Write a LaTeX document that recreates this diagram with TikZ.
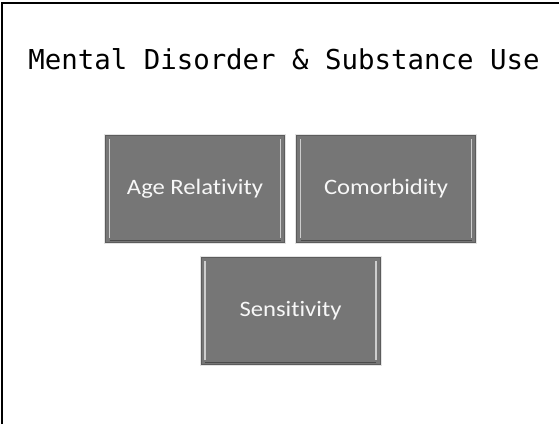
\documentclass[tikz,border=0pt]{standalone}
\usepackage{fontspec}
\newfontfamily\titlefont{DejaVu Sans Mono}
\newfontfamily\boxfont[FakeStretch=1.12, Ligatures=NoCommon]{Carlito}
\usetikzlibrary{positioning, calc}

\definecolor{boxgray}{RGB}{118,118,118}
\definecolor{boxedge}{RGB}{92,92,92}
\definecolor{bevel}{RGB}{205,205,205}

\begin{document}
\begin{tikzpicture}[x=1pt, y=-1pt,
    topic/.style={rectangle, fill=boxgray, draw=boxedge, line width=0.8pt,
      minimum width=179pt, minimum height=107pt, inner sep=0pt, outer sep=0pt,
      text=white!94!gray, font=\boxfont\fontsize{22}{26}\selectfont,
      preaction={draw=gray!22, line width=3pt},
      path picture={
        \draw[bevel, line width=1.8pt]
          ([xshift=4pt, yshift=-4pt]path picture bounding box.north west)
          -- ([xshift=4pt, yshift=4pt]path picture bounding box.south west);
        \draw[bevel, line width=1.8pt]
          ([xshift=-4pt, yshift=-4pt]path picture bounding box.north east)
          -- ([xshift=-4pt, yshift=4pt]path picture bounding box.south east);
        \draw[boxedge!80!black, line width=1pt]
          ([xshift=4pt, yshift=2pt]path picture bounding box.south west)
          -- ([xshift=-4pt, yshift=2pt]path picture bounding box.south east);
      }}]
  \useasboundingbox (0,0) rectangle (560,424);

  % Frame (top and left only)
  \draw[line width=2pt] (2,424) -- (2,3) -- (559,3);

  % Title
  \node[anchor=base, font=\titlefont\fontsize{27.4}{30}\selectfont]
    (title) at (284,69) {Mental Disorder \& Substance Use};

  % Topic boxes
  \node[topic] (age) at (195,188.5) {Age Relativity};
  \node[topic, right=12pt of age] (comorb) {Comorbidity};
  \coordinate (mid) at ($(age.south east)!0.5!(comorb.south west)$);
  \node[topic, below=15pt of mid] (sens) {Sensitivity};
\end{tikzpicture}
\end{document}
